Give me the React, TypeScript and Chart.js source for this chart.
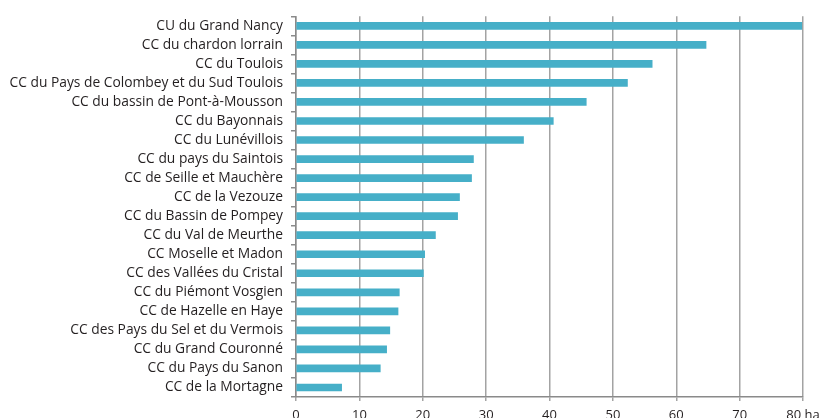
import React, { useEffect, useRef } from "react";
import { Chart, registerables } from "chart.js";

Chart.register(...registerables);

const categories = [
  "CU du Grand Nancy",
  "CC du chardon lorrain",
  "CC du Toulois",
  "CC du Pays de Colombey et du Sud Toulois",
  "CC du bassin de Pont-à-Mousson",
  "CC du Bayonnais",
  "CC du Lunévillois",
  "CC du pays du Saintois",
  "CC de Seille et Mauchère",
  "CC de la Vezouze",
  "CC du Bassin de Pompey",
  "CC du Val de Meurthe",
  "CC Moselle et Madon",
  "CC des Vallées du Cristal",
  "CC du Piémont Vosgien",
  "CC de Hazelle en Haye",
  "CC des Pays du Sel et du Vermois",
  "CC du Grand Couronné",
  "CC du Pays du Sanon",
  "CC de la Mortagne",
];

const values = [
  79.8, 64.7, 56.2, 52.3, 45.8, 40.6, 35.9, 28.0, 27.7, 25.8, 25.5, 22.0, 20.3,
  20.1, 16.3, 16.1, 14.8, 14.3, 13.3, 7.2,
];

const xTicks = [0, 10, 20, 30, 40, 50, 60, 70, 80];
const xUnit = "ha";

export default function App() {
  const ref = useRef<HTMLCanvasElement | null>(null);

  useEffect(() => {
    document.body.style.margin = "0";
    if (!ref.current) return;
    const chart = new Chart(ref.current, {
      type: "bar",
      data: {
        labels: categories,
        datasets: [
          {
            data: values,
            backgroundColor: "#46afc8",
            borderWidth: 0,
            barThickness: 7,
          },
        ],
      },
      options: {
        indexAxis: "y",
        responsive: true,
        maintainAspectRatio: false,
        animation: false,
        layout: { padding: { top: 12, right: 35, left: 0, bottom: 0 } },
        plugins: {
          legend: { display: false },
          tooltip: { enabled: false },
        },
        scales: {
          x: {
            min: 0,
            max: 80,
            afterBuildTicks: (scale: any) => {
              scale.ticks = xTicks.map((v) => ({ value: v }));
            },
            afterFit: (scale: any) => {
              scale.height = 21;
            },
            ticks: {
              color: "#231f20",
              font: { family: "Open Sans", size: 13 },
              padding: 6,
              maxRotation: 0,
              callback: (v: any) => (Number(v) === 80 ? `80 ${xUnit}` : `${v}`),
            },
            grid: {
              color: "#a3a3a3",
              lineWidth: 1.5,
              tickLength: 4,
              drawTicks: true,
            },
            border: { display: true, color: "#8a8a8a", width: 1.5 },
          },
          y: {
            afterFit: (scale: any) => {
              scale.width = 296;
            },
            ticks: {
              color: "#231f20",
              font: { family: "Open Sans", size: 13.8 },
              padding: 8,
              autoSkip: false,
            },
            grid: {
              offset: true,
              drawOnChartArea: false,
              color: "#8a8a8a",
              lineWidth: 1.5,
              tickLength: 5,
            },
            border: { display: true, color: "#8a8a8a", width: 1.5 },
          },
        },
      },
    });
    return () => chart.destroy();
  }, []);

  return (
    <div style={{ width: 838, height: 418, position: "relative", background: "#fff" }}>
      <canvas ref={ref} />
    </div>
  );
}
